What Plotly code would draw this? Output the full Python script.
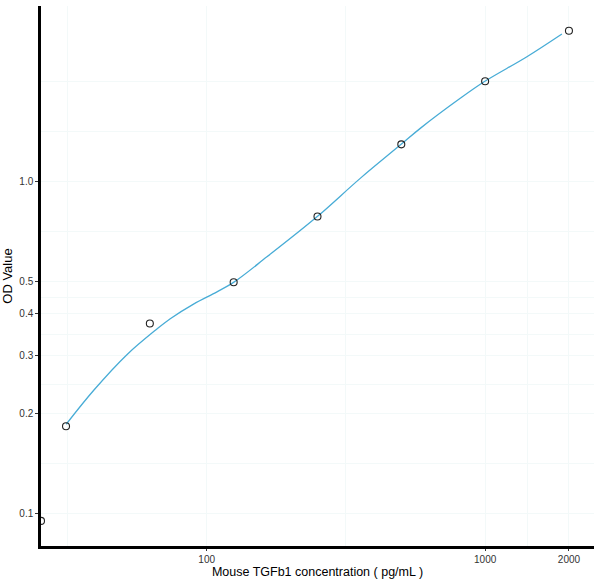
import numpy as np
import plotly.graph_objects as go

# Standards (concentration pg/mL) and measured OD
std_conc = [0, 31.25, 62.5, 125, 250, 500, 1000, 2000]
std_od = [0.095, 0.1833, 0.374, 0.498, 0.786, 1.297, 2.009, 2.855]

# Fitted curve
fit_conc = [31.3, 39.3, 51.7, 66.3, 74.0, 89.7, 108.9, 124.9, 164.6, 248.9,
            356, 495.5, 584.8, 814, 998, 1413, 1887]
fit_od = [0.1858, 0.2352, 0.3011, 0.3600, 0.3865, 0.4279, 0.4658, 0.4974,
          0.594, 0.784, 1.024, 1.290, 1.449, 1.785, 2.009, 2.383, 2.790]

x_ticks = [100, 1000, 2000]
x_tick_text = ["100", "1000", "2000"]
y_ticks = [0.1, 0.2, 0.3, 0.4, 0.5, 1.0]
y_tick_text = ["0.1", "0.2", "0.3", "0.4", "0.5", "1.0"]

x_range_log = [1.405, 3.391]
y_range_log = [-1.098, 0.530]

# zero concentration drawn at the left panel edge (like -Inf on a log scale)
x_pts = [c if c > 0 else 10 ** x_range_log[0] for c in std_conc]

# minor grid at log midpoints between breaks
x_breaks_all = [10, 100, 1000, 2000]
y_breaks_all = [0.1, 0.2, 0.3, 0.4, 0.5, 1.0, 2.0]
x_minor = [float(np.sqrt(a * b)) for a, b in zip(x_breaks_all[:-1], x_breaks_all[1:])]
y_minor = [float(np.sqrt(a * b)) for a, b in zip(y_breaks_all[:-1], y_breaks_all[1:])] + [2.0]

grid_col = "#f3f9f9"
line_col = "#48acd6"

fig = go.Figure()
fig.add_trace(go.Scatter(
    x=fit_conc, y=fit_od, mode="lines",
    line=dict(color=line_col, width=1.3, shape="spline", smoothing=1.0),
    hoverinfo="skip", showlegend=False,
))
fig.add_trace(go.Scatter(
    x=x_pts, y=std_od, mode="markers",
    marker=dict(symbol="circle-open", size=7, color="#222222", line=dict(width=1.1)),
    cliponaxis=True, showlegend=False,
))

fig.update_layout(
    width=600, height=583,
    margin=dict(l=41, r=6, t=6, b=37),
    paper_bgcolor="white", plot_bgcolor="white",
    font=dict(family="Liberation Sans, Arial, sans-serif", color="#000000"),
)
fig.update_xaxes(
    type="log", range=x_range_log,
    tickvals=x_ticks, ticktext=x_tick_text,
    tickfont=dict(size=10, color="#333333"),
    ticks="outside", ticklen=2, tickcolor="#333333",
    showgrid=True, gridcolor=grid_col, gridwidth=1,
    minor=dict(tickvals=x_minor, showgrid=True, gridcolor=grid_col, ticks=""),
    showline=True, linecolor="black", linewidth=2.5,
    zeroline=False,
    title=dict(text="Mouse TGFb1 concentration ( pg/mL )", font=dict(size=12.5), standoff=2),
)
fig.update_yaxes(
    type="log", range=y_range_log,
    tickvals=y_ticks, ticktext=y_tick_text,
    tickfont=dict(size=10, color="#333333"),
    ticks="outside", ticklen=3, tickcolor="#333333",
    showgrid=True, gridcolor=grid_col, gridwidth=1,
    minor=dict(tickvals=y_minor, showgrid=True, gridcolor=grid_col, ticks=""),
    showline=True, linecolor="black", linewidth=2.5,
    zeroline=False,
    title=dict(text="OD Value", font=dict(size=13), standoff=4),
)

fig.write_html("out.html")
